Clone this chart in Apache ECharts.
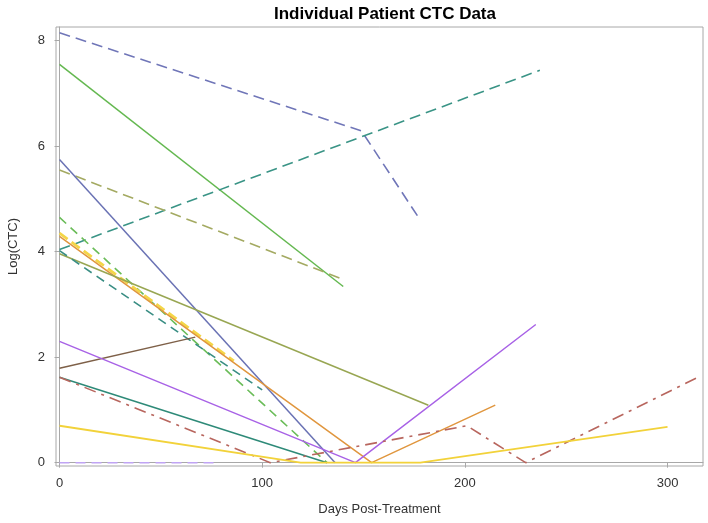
<!DOCTYPE html>
<html><head><meta charset="utf-8">
<script src="https://cdn.jsdelivr.net/npm/echarts@6/dist/echarts.min.js"></script>
<style>html,body{margin:0;padding:0;background:#fff}#c{width:708px;height:523px}</style>
</head><body><div id="c"></div>
<script>
// Tick labels
const xTicks = [0, 100, 200, 300];
const yTicks = [0, 2, 4, 6, 8];
// Patient data: days post-treatment and log(CTC)
const p1Days = [0, 149, 178];           const p1Log = [8.15, 6.29, 4.6];
const p2Days = [0, 140];                const p2Log = [7.55, 3.34];
const p3Days = [0, 237];                const p3Log = [4.04, 7.44];
const p4Days = [0, 139];                const p4Log = [5.55, 3.49];
const p5Days = [0, 136];                const p5Log = [5.75, 0];
const p6Days = [0, 132];                const p6Log = [4.65, 0];
const p7Days = [0, 154, 215];           const p7Log = [4.29, 0, 1.09];
const p8Days = [0, 86];                 const p8Log = [4.35, 1.93];
const p9Days = [0, 182];                const p9Log = [3.96, 1.09];
const p10Days = [0, 100];               const p10Log = [4.02, 1.38];
const p11Days = [0, 67];                const p11Log = [1.79, 2.38];
const p12Days = [0, 146, 235];          const p12Log = [2.3, 0, 2.62];
const p13Days = [0, 132];               const p13Log = [1.62, 0];
const p14Days = [0, 104, 201, 230, 315];const p14Log = [1.62, 0, 0.70, 0, 1.62];
const p15Days = [0, 119, 178, 300];     const p15Log = [0.70, 0, 0, 0.68];
const p16Days = [0, 78];                const p16Log = [0, 0];

function pts(xs, ys){ return xs.map((x,i)=>[x, ys[i]]); }
const styles = [
  [p16Days,p16Log,'#c0a4f4',[10,6],1.6],
  [p1Days,p1Log,'#7076b8',[11,6],1.6],
  [p2Days,p2Log,'#64b850','solid',1.5],
  [p3Days,p3Log,'#3a9486',[11,6],1.6],
  [p4Days,p4Log,'#a4aa62',[11,6],1.6],
  [p5Days,p5Log,'#6a72b4','solid',1.5],
  [p6Days,p6Log,'#6abc58',[9,6],1.6],
  [p8Days,p8Log,'#f4d648',[10,5],2.8],
  [p7Days,p7Log,'#e0963e','solid',1.5],
  [p9Days,p9Log,'#98a652','solid',1.5],
  [p10Days,p10Log,'#3a8e84',[9,6],1.6],
  [p11Days,p11Log,'#7e6048','solid',1.5],
  [p12Days,p12Log,'#a862e6','solid',1.5],
  [p13Days,p13Log,'#2e8a78','solid',1.5],
  [p14Days,p14Log,'#b8665e',[12,6,3,6],1.6],
  [p15Days,p15Log,'#f2d23a','solid',1.8]
];
const series = styles.map(s => ({
  type:'line', data: pts(s[0], s[1]), showSymbol:false, silent:true, animation:false,
  lineStyle:{color:s[2], type:s[3], width:s[4]}
}));
const chart = echarts.init(document.getElementById('c'), null, {renderer:'canvas'});
chart.setOption({
  animation:false,
  title:{text:'Individual Patient CTC Data', left:380, top:1, textAlign:'center',
    textStyle:{fontFamily:'Liberation Sans', fontSize:17, fontWeight:'bold', color:'#000'}},
  grid:{left:56, right:5, top:27, bottom:57, containLabel:false, outerBoundsMode:'none',
    show:true, borderColor:'#a8a8a8', borderWidth:1},
  xAxis:{type:'value', min:-1.73, max:317.5,
    name:'Days Post-Treatment', nameLocation:'middle', nameGap:37,
    nameTextStyle:{fontFamily:'Liberation Sans', fontSize:13, color:'#333'},
    axisLine:{show:true, lineStyle:{color:'#a8a8a8'}},
    axisTick:{show:true, length:5, lineStyle:{color:'#a8a8a8'}, customValues:xTicks},
    axisLabel:{fontFamily:'Liberation Sans', fontSize:13, color:'#333', margin:11, customValues:xTicks},
    splitLine:{show:false}},
  yAxis:{type:'value', min:-0.063, max:8.26,
    name:'Log(CTC)', nameLocation:'middle', nameGap:36, nameRotate:90,
    nameTextStyle:{fontFamily:'Liberation Sans', fontSize:13, color:'#333'},
    axisLine:{show:true, lineStyle:{color:'#a8a8a8'}},
    axisTick:{show:true, length:5, lineStyle:{color:'#a8a8a8'}, customValues:yTicks},
    axisLabel:{fontFamily:'Liberation Sans', fontSize:13, color:'#333', margin:11, customValues:yTicks},
    splitLine:{show:false}},
  series: series
});
</script></body></html>
